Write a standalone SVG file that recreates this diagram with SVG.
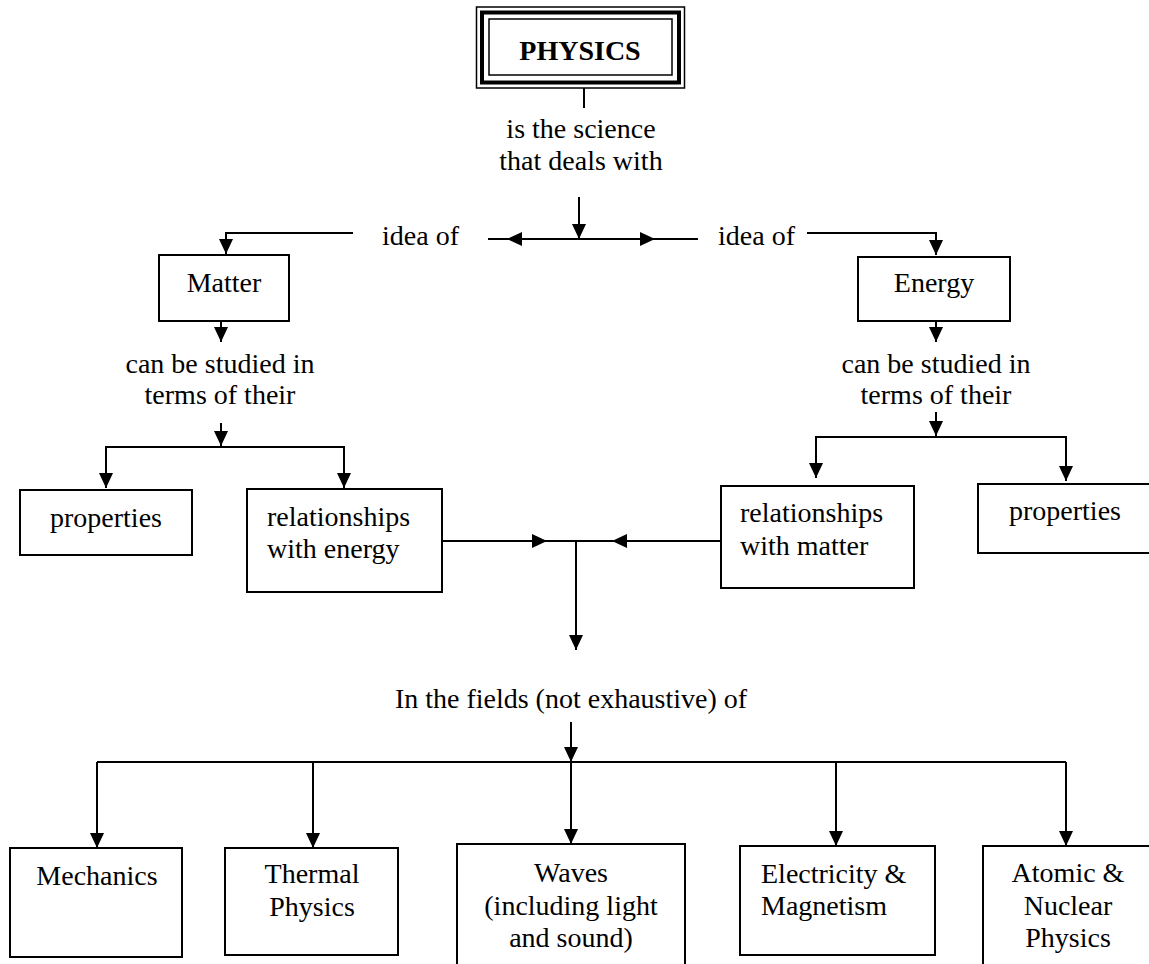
<svg xmlns="http://www.w3.org/2000/svg" width="1149" height="964" viewBox="0 0 1149 964">
<style>
text{font-family:"Liberation Serif","Times New Roman",serif;font-size:28px;fill:#000}
.c{text-anchor:middle}
.box{fill:#fff;stroke:#000;stroke-width:2}
.ln{fill:none;stroke:#000;stroke-width:2}
</style>
<defs>
<marker id="ah" markerUnits="userSpaceOnUse" markerWidth="15" markerHeight="14" refX="15" refY="7" orient="auto">
<path d="M0,0 L15,7 L0,14 z" fill="#000"/>
</marker>
</defs>
<rect width="1149" height="964" fill="#fff"/>
<g id="connectors">
<path class="ln" d="M584,88 V108"/>
<path class="ln" d="M579,197 V239" marker-end="url(#ah)"/>
<path class="ln" d="M488,239 H698"/>
<path class="ln" d="M579,239 H507" marker-end="url(#ah)"/>
<path class="ln" d="M579,239 H655" marker-end="url(#ah)"/>
<path class="ln" d="M353,233 H226 V254" marker-end="url(#ah)"/>
<path class="ln" d="M807,233 H936 V255" marker-end="url(#ah)"/>
<path class="ln" d="M221,321 V342" marker-end="url(#ah)"/>
<path class="ln" d="M936,321 V342" marker-end="url(#ah)"/>
<path class="ln" d="M221,423 V446" marker-end="url(#ah)"/>
<path class="ln" d="M221,447 H106 V488" marker-end="url(#ah)"/>
<path class="ln" d="M221,447 H344 V488" marker-end="url(#ah)"/>
<path class="ln" d="M936,412 V436" marker-end="url(#ah)"/>
<path class="ln" d="M936,437 H816 V478" marker-end="url(#ah)"/>
<path class="ln" d="M936,437 H1066 V481" marker-end="url(#ah)"/>
<path class="ln" d="M442,541 H721"/>
<path class="ln" d="M442,541 H547" marker-end="url(#ah)"/>
<path class="ln" d="M721,541 H612" marker-end="url(#ah)"/>
<path class="ln" d="M576,541 V650" marker-end="url(#ah)"/>
<path class="ln" d="M571,722 V762" marker-end="url(#ah)"/>
<path class="ln" d="M97,762 H1066"/>
<path class="ln" d="M97,762 V848" marker-end="url(#ah)"/>
<path class="ln" d="M313,762 V848" marker-end="url(#ah)"/>
<path class="ln" d="M571,762 V844" marker-end="url(#ah)"/>
<path class="ln" d="M836,762 V846" marker-end="url(#ah)"/>
<path class="ln" d="M1066,762 V846" marker-end="url(#ah)"/>
</g>
<g id="physics">
<rect x="476.5" y="7" width="208" height="81" fill="#fff" stroke="#000" stroke-width="1.5"/>
<rect x="482" y="12.5" width="197" height="70" fill="none" stroke="#000" stroke-width="4"/>
<rect x="489" y="19" width="183" height="56" fill="none" stroke="#000" stroke-width="1.5"/>
<text class="c" x="580" y="60" style="font-weight:bold">PHYSICS</text>
</g>
<g id="label-science">
<text class="c" x="581" y="138">is the science</text>
<text class="c" x="581" y="170">that deals with</text>
</g>
<g id="label-idea-left"><text x="382" y="245">idea of</text></g>
<g id="label-idea-right"><text x="718" y="245">idea of</text></g>
<g id="matter">
<rect class="box" x="159" y="255" width="130" height="66"/>
<text class="c" x="224" y="292">Matter</text>
</g>
<g id="energy">
<rect class="box" x="858" y="257" width="152" height="64"/>
<text class="c" x="934" y="292">Energy</text>
</g>
<g id="label-studied-left">
<text class="c" x="220" y="373">can be studied in</text>
<text class="c" x="220" y="404">terms of their</text>
</g>
<g id="label-studied-right">
<text class="c" x="936" y="373">can be studied in</text>
<text class="c" x="936" y="404">terms of their</text>
</g>
<g id="properties-left">
<rect class="box" x="20" y="490" width="172" height="65"/>
<text class="c" x="106" y="527">properties</text>
</g>
<g id="relationships-energy">
<rect class="box" x="247" y="489" width="195" height="103"/>
<text x="267" y="526">relationships</text>
<text x="267" y="558">with energy</text>
</g>
<g id="relationships-matter">
<rect class="box" x="721" y="486" width="193" height="102"/>
<text x="740" y="522">relationships</text>
<text x="740" y="555">with matter</text>
</g>
<g id="properties-right">
<path class="ln" d="M1150,484 H978 V553 H1150" style="fill:#fff"/>
<text class="c" x="1065" y="520">properties</text>
</g>
<g id="label-fields"><text class="c" x="571" y="708">In the fields (not exhaustive) of</text></g>
<g id="mechanics">
<rect class="box" x="10" y="848" width="172" height="109"/>
<text class="c" x="97" y="885">Mechanics</text>
</g>
<g id="thermal">
<rect class="box" x="225" y="848" width="173" height="107"/>
<text class="c" x="312" y="883">Thermal</text>
<text class="c" x="312" y="916">Physics</text>
</g>
<g id="waves">
<rect class="box" x="457" y="844" width="228" height="140"/>
<text class="c" x="571" y="882">Waves</text>
<text class="c" x="571" y="915">(including light</text>
<text class="c" x="571" y="947">and sound)</text>
</g>
<g id="electricity">
<rect class="box" x="740" y="846" width="195" height="109"/>
<text x="761" y="883">Electricity &amp;</text>
<text x="761" y="915">Magnetism</text>
</g>
<g id="atomic">
<rect class="box" x="983" y="846" width="180" height="140"/>
<text class="c" x="1068" y="882">Atomic &amp;</text>
<text class="c" x="1068" y="915">Nuclear</text>
<text class="c" x="1068" y="947">Physics</text>
</g>
</svg>
